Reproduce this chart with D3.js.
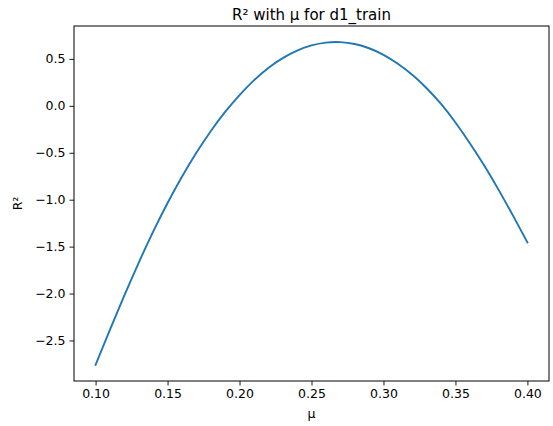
<!DOCTYPE html>
<html>
<head>
<meta charset="utf-8">
<script src="https://cdn.jsdelivr.net/npm/d3@7"></script>
<style>
  body { margin: 0; background: #fff; }
  text { font-family: "DejaVu Sans", sans-serif; fill: #000; }
</style>
</head>
<body>
<svg id="chart" width="553" height="426"></svg>
<script>
    // mu values and R²
    var mu = [0.10, 0.11, 0.12, 0.13, 0.14, 0.15, 0.16, 0.17, 0.18, 0.19, 0.20,
              0.21, 0.22, 0.23, 0.24, 0.25, 0.26, 0.27, 0.28, 0.29, 0.30,
              0.31, 0.32, 0.33, 0.34, 0.35, 0.36, 0.37, 0.38, 0.39, 0.40];
    var r2 = [-2.760, -2.385, -2.020, -1.670, -1.340, -1.035, -0.755, -0.500, -0.270, -0.065, 0.115,
              0.272, 0.404, 0.509, 0.589, 0.644, 0.674, 0.679, 0.659, 0.614, 0.544,
              0.449, 0.331, 0.188, 0.020, -0.178, -0.398, -0.635, -0.895, -1.170, -1.455];
    var xTicks = [0.10, 0.15, 0.20, 0.25, 0.30, 0.35, 0.40];
    var yTicks = [0.5, 0.0, -0.5, -1.0, -1.5, -2.0, -2.5];

    var points = mu.map(function(m, i){ return {mu: m, r2: r2[i]}; });

    var plotL = 74, plotR = 549, plotT = 26, plotB = 381;
    var svg = d3.select("#chart");

    // matplotlib style 5% margins
    function padded(ext){
        var p = (ext[1] - ext[0]) * 0.05;
        return [ext[0] - p, ext[1] + p];
    }
    var x = d3.scaleLinear().domain(padded(d3.extent(mu))).range([plotL, plotR]);
    var y = d3.scaleLinear().domain(padded(d3.extent(r2))).range([plotB, plotT]);

    var minus = function(s){ return s.replace("-", "\u2212"); };

    var xAxis = svg.append("g")
        .attr("transform", "translate(0," + plotB + ")")
        .call(d3.axisBottom(x).tickValues(xTicks).tickSize(4.5).tickPadding(4)
              .tickFormat(function(d){ return d3.format(".2f")(d); }));
    var yAxis = svg.append("g")
        .attr("transform", "translate(" + plotL + ",0)")
        .call(d3.axisLeft(y).tickValues(yTicks).tickSize(4.5).tickPadding(4)
              .tickFormat(function(d){ return minus(d3.format(".1f")(d)); }));

    [xAxis, yAxis].forEach(function(a){
        a.select(".domain").remove();
        a.selectAll(".tick line").attr("stroke", "#000").attr("stroke-width", 0.9);
        a.selectAll(".tick text").attr("font-size", "12.5px")
            .attr("font-family", "DejaVu Sans, sans-serif").attr("fill", "#000");
    });

    // frame
    svg.append("rect")
        .attr("x", plotL).attr("y", plotT)
        .attr("width", plotR - plotL).attr("height", plotB - plotT)
        .attr("fill", "none").attr("stroke", "#000").attr("stroke-width", 1);

    var line = d3.line()
        .x(function(d){ return x(d.mu); })
        .y(function(d){ return y(d.r2); })
        .curve(d3.curveNatural);

    svg.append("path")
        .datum(points)
        .attr("d", line)
        .attr("fill", "none")
        .attr("stroke", "#1f77b4")
        .attr("stroke-width", 1.9)
        .attr("stroke-linecap", "square");

    svg.append("text")
        .attr("x", (plotL + plotR) / 2).attr("y", 20)
        .attr("text-anchor", "middle")
        .attr("font-size", "15px")
        .text("R\u00b2 with \u03bc for d1_train");

    svg.append("text")
        .attr("x", (plotL + plotR) / 2).attr("y", 418)
        .attr("text-anchor", "middle")
        .attr("font-size", "12.5px")
        .text("\u03bc");

    svg.append("text")
        .attr("transform", "translate(22," + (plotT + plotB) / 2 + ") rotate(-90)")
        .attr("text-anchor", "middle")
        .attr("font-size", "12.5px")
        .text("R\u00b2");
</script>
</body>
</html>
